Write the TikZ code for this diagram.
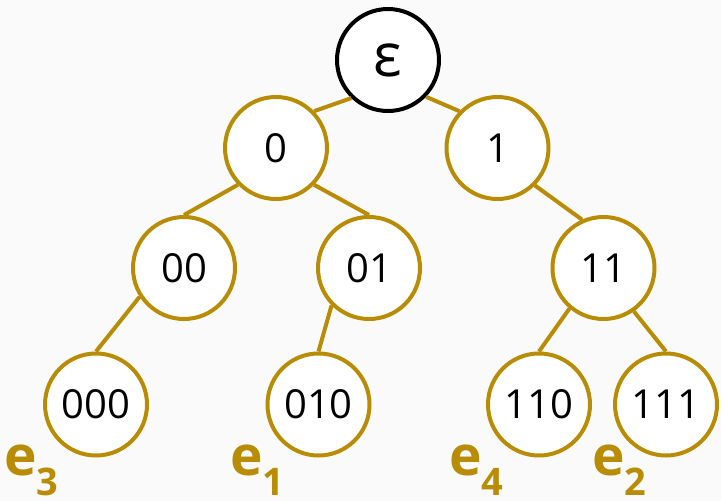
\documentclass[tikz,border=0pt]{standalone}
\usepackage{fontspec}
\setmainfont{Open Sans}
\definecolor{gold}{RGB}{185,140,5}
\definecolor{bg}{RGB}{250,250,250}
\tikzset{
  tnode/.style={circle, draw=gold, line width=4pt, fill=white, inner sep=0pt, minimum size=102pt,
    font=\fontsize{40}{40}\selectfont, text=black},
  rootnode/.style={tnode, draw=black},
  edge/.style={draw=gold, line width=4pt},
  elabel/.style={anchor=base west, inner sep=0pt, text=gold, font=\fontsize{55}{55}\selectfont\bfseries}
}
\newcommand{\esub}[1]{e\raisebox{-20pt}[0pt][0pt]{\fontsize{38}{38}\selectfont #1}}
\begin{document}
\begin{tikzpicture}[x=1pt,y=-1pt]
\fill[bg] (0,0) rectangle (721,501);
\useasboundingbox (0,0) rectangle (721,501);
\coordinate (pe) at (388,60);
\coordinate (p0) at (276,148);
\coordinate (p1) at (497.5,148);
\coordinate (p00) at (184,268);
\coordinate (p01) at (369,268);
\coordinate (p11) at (603.5,268);
\coordinate (p000) at (96,404.5);
\coordinate (p010) at (318.5,404.5);
\coordinate (p110) at (539,404.5);
\coordinate (p111) at (666,404.5);

\node[rootnode] (e) at (pe) {\fontsize{60}{60}\selectfont ε};
\node[tnode] (n0) at (p0) {0};
\node[tnode] (n1) at (p1) {1};
\node[tnode] (n00) at (p00) {00};
\node[tnode] (n01) at (p01) {01};
\node[tnode] (n11) at (p11) {11};
\node[tnode] (n000) at (p000) {000};
\node[tnode] (n010) at (p010) {010};
\node[tnode] (n110) at (p110) {110};
\node[tnode] (n111) at (p111) {111};

\draw[edge] (e.226) -- (n0.44);
\draw[edge] (e.316) -- (n1.136);
\draw[edge] (n0.224) -- (n00.90);
\draw[edge] (n0.316) -- (n01.90);
\draw[edge] (n1.315) -- (n11.114);
\draw[edge] (n00.213) -- (n000.90);
\draw[edge] (n01.225) -- (n010.90);
\draw[edge] (n11.230) -- (n110.90);
\draw[edge] (n11.305) -- (n111.90);

\node[elabel] (l3) at (4,475) {\esub{3}};
\node[elabel] (l1) at (230,475) {\esub{1}};
\node[elabel] (l4) at (449,475) {\esub{4}};
\node[elabel] (l2) at (592,475) {\esub{2}};
\end{tikzpicture}
\end{document}
